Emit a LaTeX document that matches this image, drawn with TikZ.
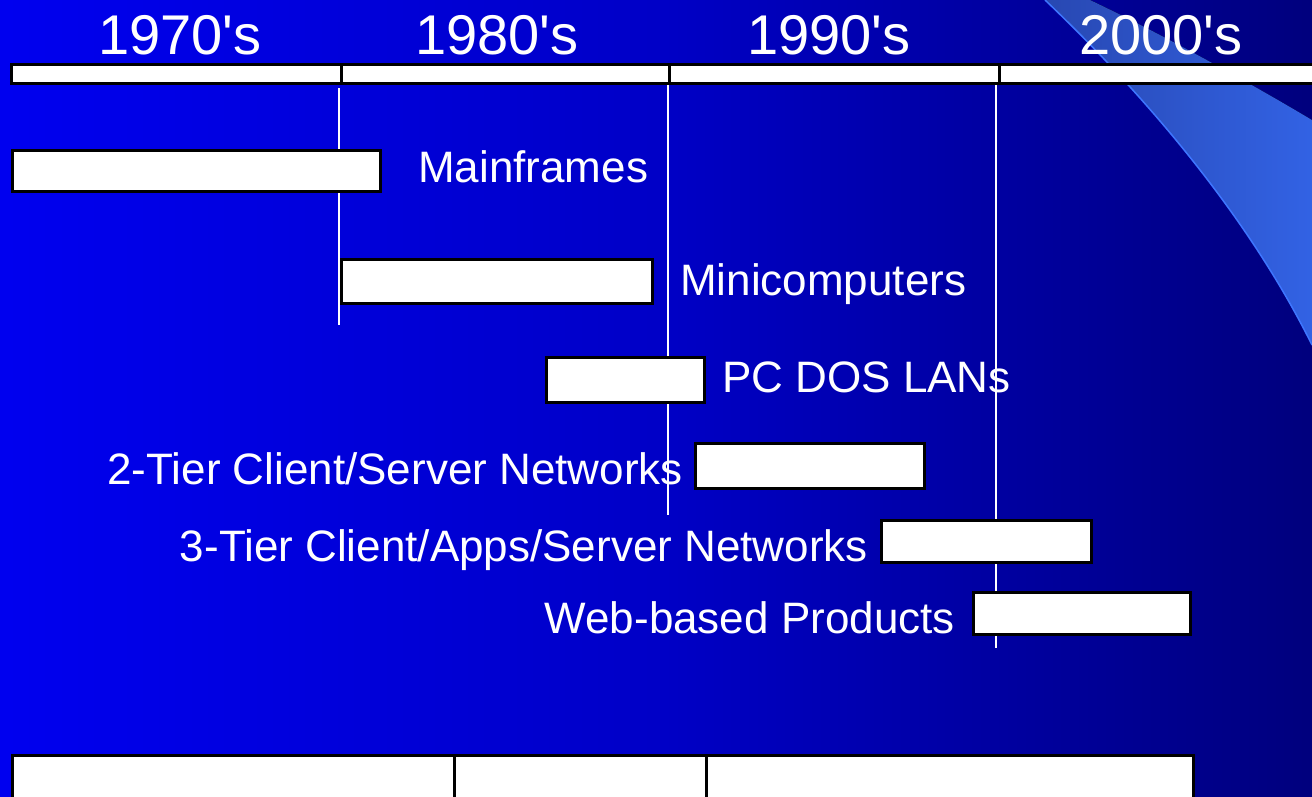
\documentclass[tikz,border=0pt]{standalone}
\usepackage{fontspec}
\setmainfont{Liberation Sans}[Ligatures=TeXOff]
\pgfdeclarehorizontalshading{slidebg}{100bp}{rgb(0bp)=(0,0,1); rgb(20bp)=(0,0,0.97); rgb(50bp)=(0,0,0.78); rgb(76bp)=(0,0,0.48); rgb(100bp)=(0,0,0.24)}
\definecolor{swooshdark}{RGB}{40,72,178}
\definecolor{swooshlight}{RGB}{50,98,228}
\definecolor{swooshedge}{RGB}{62,118,255}

\begin{document}
\begin{tikzpicture}[x=1pt, y=-1pt,
    bar/.style={draw=black, line width=3pt, fill=white},
    era/.style={text=white, inner sep=0pt, anchor=base, font=\fontsize{56}{60}\selectfont},
    lbl/.style={text=white, inner sep=0pt, font=\fontsize{44}{50}\selectfont},
    vline/.style={white, line width=2pt}]
    % Background
    \shade[shading=slidebg] (0,0) rectangle (1312,796);
    \useasboundingbox (0,0) rectangle (1312,796);
    % Swoosh top right
    \fill[left color=swooshdark, right color=swooshlight] (1045,0) .. controls (1150,100) and (1250,220) .. (1312,345)
        -- (1312,120) .. controls (1250,83) and (1160,33) .. (1090,0) -- cycle;
    \draw[swooshedge, line width=1.5pt] (1045,0) .. controls (1150,100) and (1250,220) .. (1312,345);
    % Decades
    \foreach \yr/\cx in {1970/180, 1980/497, 1990/829, 2000/1161}
        \node[era] (d\yr) at (\cx,54) {\yr's};
    % Time line
    \draw[bar] (11,64) rectangle (341,83);
    \draw[bar] (341,64) rectangle (669,83);
    \draw[bar] (669,64) rectangle (999,83);
    \draw[bar] (999,64) rectangle (1320,83);
    % Labels
    \node[lbl, anchor=base west] (mainlbl) at (418,182) {Mainframes};
    \node[lbl, anchor=base west] (minilbl) at (680,295) {Minicomputers};
    \node[lbl, anchor=base west] (pclbl) at (722,392) {PC DOS LANs};
    \node[lbl, anchor=base east] (twolbl) at (683,484) {2-Tier Client/Server Networks};
    \node[lbl, anchor=base east] (threelbl) at (868,561) {3-Tier Client/Apps/Server Networks};
    \node[lbl, anchor=base east] (weblbl) at (955,633) {Web-based Products};
    % Decade marks
    \draw[vline] (339,88) -- (339,325);
    \draw[vline] (668,85) -- (668,515);
    \draw[vline] (996,85) -- (996,648);
    % Bars
    \draw[bar] (12,150) rectangle (380,191);
    \draw[bar] (341,259) rectangle (652,303);
    \draw[bar] (546,357) rectangle (704,402);
    \draw[bar] (695,443) rectangle (924,488);
    \draw[bar] (881,520) rectangle (1091,562);
    \draw[bar] (973,592) rectangle (1190,634);
    % Bottom boxes
    \draw[bar] (12,755) rectangle (454,805);
    \draw[bar] (454,755) rectangle (706,805);
    \draw[bar] (706,755) rectangle (1193,805);
\end{tikzpicture}
\end{document}
